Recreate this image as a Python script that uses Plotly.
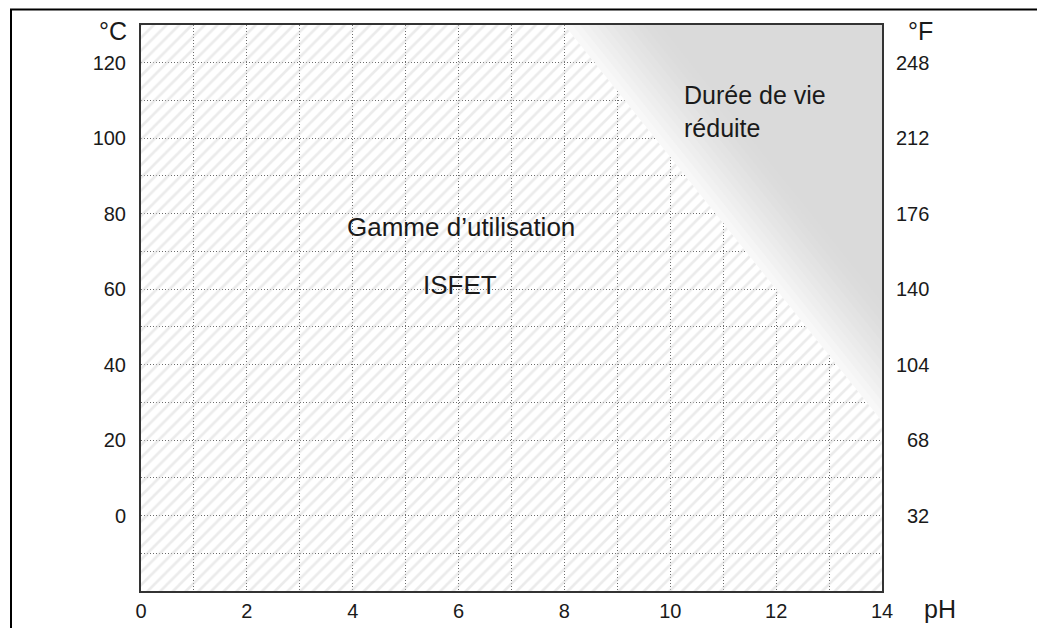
import plotly.graph_objects as go

# ---- data ----
ph_range = [0, 14]
temp_range_c = [-20, 130]
limit_ph = [8, 14]          # boundary of "reduced lifetime" zone
limit_temp_c = [130, 25]
celsius_ticks = [0, 20, 40, 60, 80, 100, 120]
fahrenheit_ticks = [32, 68, 104, 140, 176, 212, 248]
ph_ticks = [0, 2, 4, 6, 8, 10, 12, 14]

# page is rendered with an 8px body margin
OFF = 8
W, H = 1045 - OFF, 628 - OFF
PL, PR, PT, PB = 141, 882, 25, 591          # plot box in page pixels
ML, MT = PL - OFF, PT - OFF
PW, PH = PR - PL, PB - PT
MR = W - ML - PW
MB = H - MT - PH

def px_x(p):
    return (p - PL) / PW

def px_y(p):
    return (PB - p) / PH

FONT = "Arial, Liberation Sans, sans-serif"
TXT = "#1a1a1a"
GRIDC = "#6a6a6a"
DASH = "1px,2px"

fig = go.Figure()

# hatched usable region
use_x = [ph_range[0], ph_range[1], limit_ph[1], limit_ph[0], ph_range[0], ph_range[0]]
use_y = [temp_range_c[0], temp_range_c[0], limit_temp_c[1], limit_temp_c[0], temp_range_c[1], temp_range_c[0]]
fig.add_trace(go.Scatter(
    x=use_x, y=use_y, mode="lines", fill="toself",
    fillcolor="rgba(0,0,0,0)", line=dict(width=0),
    fillpattern=dict(shape="/", fgcolor="#d8d8d8", bgcolor="rgba(0,0,0,0)",
                     size=9, solidity=0.3),
    hoverinfo="skip", showlegend=False))

# reduced-lifetime zone with gradient (nested triangles toward the corner)
ax, ay = limit_ph[0], limit_temp_c[0]
bx, by = limit_ph[1], limit_temp_c[1]
cx, cy = ph_range[1], temp_range_c[1]
n = 40
for k in range(n):
    f = k / n
    t = min(f / 0.3, 1.0)
    g = int(round(218 + 30 * (1 - t) ** 1.4))
    col = f"rgb({g},{g},{g})"
    tx = [ax + f * (cx - ax), bx + f * (cx - bx), cx, ax + f * (cx - ax)]
    ty = [ay + f * (cy - ay), by + f * (cy - by), cy, ay + f * (cy - ay)]
    fig.add_trace(go.Scatter(x=tx, y=ty, mode="lines", fill="toself",
                             fillcolor=col, line=dict(width=0),
                             hoverinfo="skip", showlegend=False))
    if t >= 1.0:
        break

fig.update_xaxes(range=ph_range, tickvals=ph_ticks, ticks="", automargin=False,
                 ticklabelstandoff=1,
                 tickfont=dict(family=FONT, size=20, color=TXT),
                 showline=True, mirror=True, linecolor="#333333", linewidth=2,
                 zeroline=False,
                 showgrid=True, gridcolor=GRIDC, gridwidth=1, griddash=DASH,
                 minor=dict(dtick=1, tick0=0, showgrid=True, gridcolor=GRIDC,
                            gridwidth=1, griddash=DASH))
fig.update_yaxes(range=temp_range_c, tickvals=celsius_ticks, ticks="", automargin=False,
                 ticklabelstandoff=9,
                 tickfont=dict(family=FONT, size=20, color=TXT),
                 showline=True, mirror=True, linecolor="#333333", linewidth=2,
                 zeroline=False,
                 showgrid=True, gridcolor=GRIDC, gridwidth=1, griddash=DASH,
                 minor=dict(dtick=10, tick0=0, showgrid=True, gridcolor=GRIDC,
                            gridwidth=1, griddash=DASH))

ann = []
# Fahrenheit labels on the right
for fv in fahrenheit_ticks:
    ann.append(dict(xref="paper", yref="y", x=px_x(931), y=(fv - 32) / 1.8,
                    text=str(fv), showarrow=False, xanchor="right", yanchor="middle",
                    font=dict(family=FONT, size=20, color=TXT)))
ann += [
    dict(xref="paper", yref="paper", x=px_x(129), y=px_y(31), text="°C",
         showarrow=False, xanchor="right", yanchor="middle",
         font=dict(family=FONT, size=25, color=TXT)),
    dict(xref="paper", yref="paper", x=px_x(906), y=px_y(31), text="°F",
         showarrow=False, xanchor="left", yanchor="middle",
         font=dict(family=FONT, size=25, color=TXT)),
    dict(xref="paper", yref="paper", x=px_x(940), y=px_y(609), text="pH",
         showarrow=False, xanchor="center", yanchor="middle",
         font=dict(family=FONT, size=25, color=TXT)),
    dict(xref="x", yref="y", x=6.05, y=76.5, text="Gamme d’utilisation",
         showarrow=False, xanchor="center", yanchor="middle",
         font=dict(family=FONT, size=26, color=TXT)),
    dict(xref="x", yref="y", x=6.03, y=61, text="ISFET",
         showarrow=False, xanchor="center", yanchor="middle",
         font=dict(family=FONT, size=26, color=TXT)),
    dict(xref="x", yref="y", x=10.23, y=107, text="Durée de vie<br>réduite",
         showarrow=False, xanchor="left", yanchor="middle", align="left",
         font=dict(family=FONT, size=25, color=TXT)),
]

# outer frame (bottom edge lies below the picture)
fig.update_layout(
    width=W, height=H, autosize=False,
    margin=dict(l=ML, r=MR, t=MT, b=MB, pad=0, autoexpand=False),
    plot_bgcolor="white", paper_bgcolor="white",
    showlegend=False,
    annotations=ann,
    shapes=[dict(type="rect", xref="paper", yref="paper",
                 x0=px_x(11), x1=px_x(1039), y0=px_y(700), y1=px_y(9.5),
                 line=dict(color="black", width=2), fillcolor="rgba(0,0,0,0)",
                 layer="below")],
)

fig.write_html("out.html")
